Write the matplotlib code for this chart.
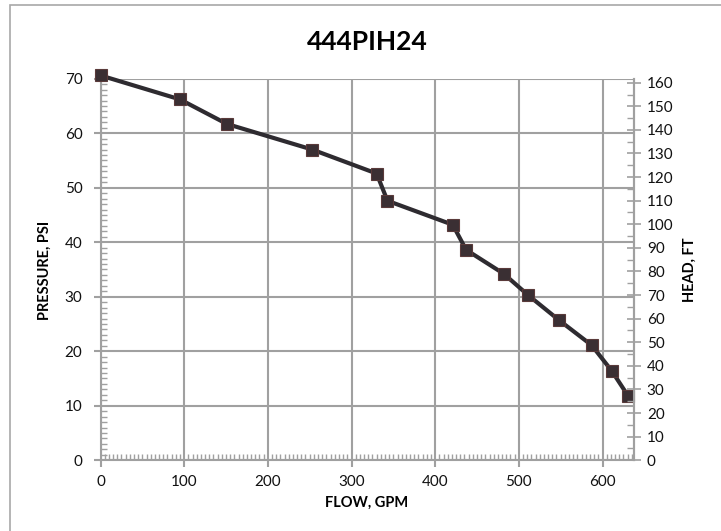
import matplotlib
matplotlib.use("Agg")
import matplotlib.pyplot as plt
from matplotlib.ticker import MultipleLocator
from matplotlib.patches import Rectangle

plt.rcParams['font.family'] = ['Lato', 'DejaVu Sans']

title = "444PIH24"
flow_gpm = [0, 95, 151, 253, 330, 343, 421, 437, 482, 511, 548, 587, 611, 631]
pressure_psi = [70.6, 66.2, 61.7, 57.0, 52.6, 47.6, 43.2, 38.6, 34.2, 30.3, 25.7, 21.1, 16.4, 11.7]
x_ticks = [0, 100, 200, 300, 400, 500, 600]
y_ticks = [0, 10, 20, 30, 40, 50, 60, 70]
head_ticks = list(range(0, 161, 10))
PSI_TO_FT = 2.31

grid_c = '#a0a0a0'
line_c = '#2e2b30'

fig = plt.figure(figsize=(7.21, 5.31), dpi=100)
fig.patches.append(Rectangle((10/721, -0.1), 1.2, 1 - 5/531 + 0.1, transform=fig.transFigure,
                             fill=False, edgecolor='#a8a8a8', linewidth=1.2))
ax = fig.add_axes([100.5/721, 1 - 460.2/531, (634.3 - 100.5)/721, (460.2 - 78.7)/531])

ax.plot(flow_gpm, pressure_psi, color=line_c, linewidth=3, marker='s', markersize=9,
        markerfacecolor='#3a2f33', markeredgecolor='#5a3a3a', markeredgewidth=0.8,
        zorder=5, clip_on=False)

ax.set_xlim(0, 638)
ax.set_ylim(0, 70)
ax.set_xticks(x_ticks)
ax.set_yticks(y_ticks)
ax.xaxis.set_minor_locator(MultipleLocator(5))
ax.yaxis.set_minor_locator(MultipleLocator(1))
ax.grid(True, which='major', color=grid_c, linewidth=1.5)
ax.set_axisbelow(True)
for s in ['left', 'bottom', 'right']:
    ax.spines[s].set_color(grid_c)
    ax.spines[s].set_linewidth(1.5)
ax.spines['top'].set_visible(False)
ax.tick_params(axis='both', which='major', direction='out', length=5, width=1.5, color=grid_c,
               labelsize=11, labelcolor='#111111')
ax.tick_params(axis='both', which='minor', direction='in', length=4, width=1, color=grid_c)
ax.tick_params(axis='y', which='major', pad=8)
ax.tick_params(axis='x', which='major', pad=6)

ax2 = ax.twinx()
ax2.set_ylim(0, 70 * PSI_TO_FT)
ax2.set_yticks(head_ticks)
ax2.yaxis.set_minor_locator(MultipleLocator(5))
for s in ['left', 'top', 'bottom']:
    ax2.spines[s].set_visible(False)
ax2.spines['right'].set_color(grid_c)
ax2.spines['right'].set_linewidth(1.5)
ax2.tick_params(axis='y', which='major', direction='inout', length=10, width=1.2, color=grid_c,
                labelsize=11, labelcolor='#111111', pad=4)
ax2.tick_params(axis='y', which='minor', direction='in', length=5, width=1, color=grid_c)

fig.text(367/721, 1 - 42/531, title, ha='center', va='center', fontsize=19, fontweight='bold')
fig.text(45/721, 1 - 270/531, "PRESSURE, PSI", rotation=90, ha='center', va='center',
         fontsize=10.5, fontweight='bold')
fig.text(690/721, 1 - 270/531, "HEAD, FT", rotation=90, ha='center', va='center',
         fontsize=10.5, fontweight='bold')
fig.text(367/721, 1 - 503/531, "FLOW, GPM", ha='center', va='center',
         fontsize=10.5, fontweight='bold')

fig.savefig("out.png", dpi=100)
